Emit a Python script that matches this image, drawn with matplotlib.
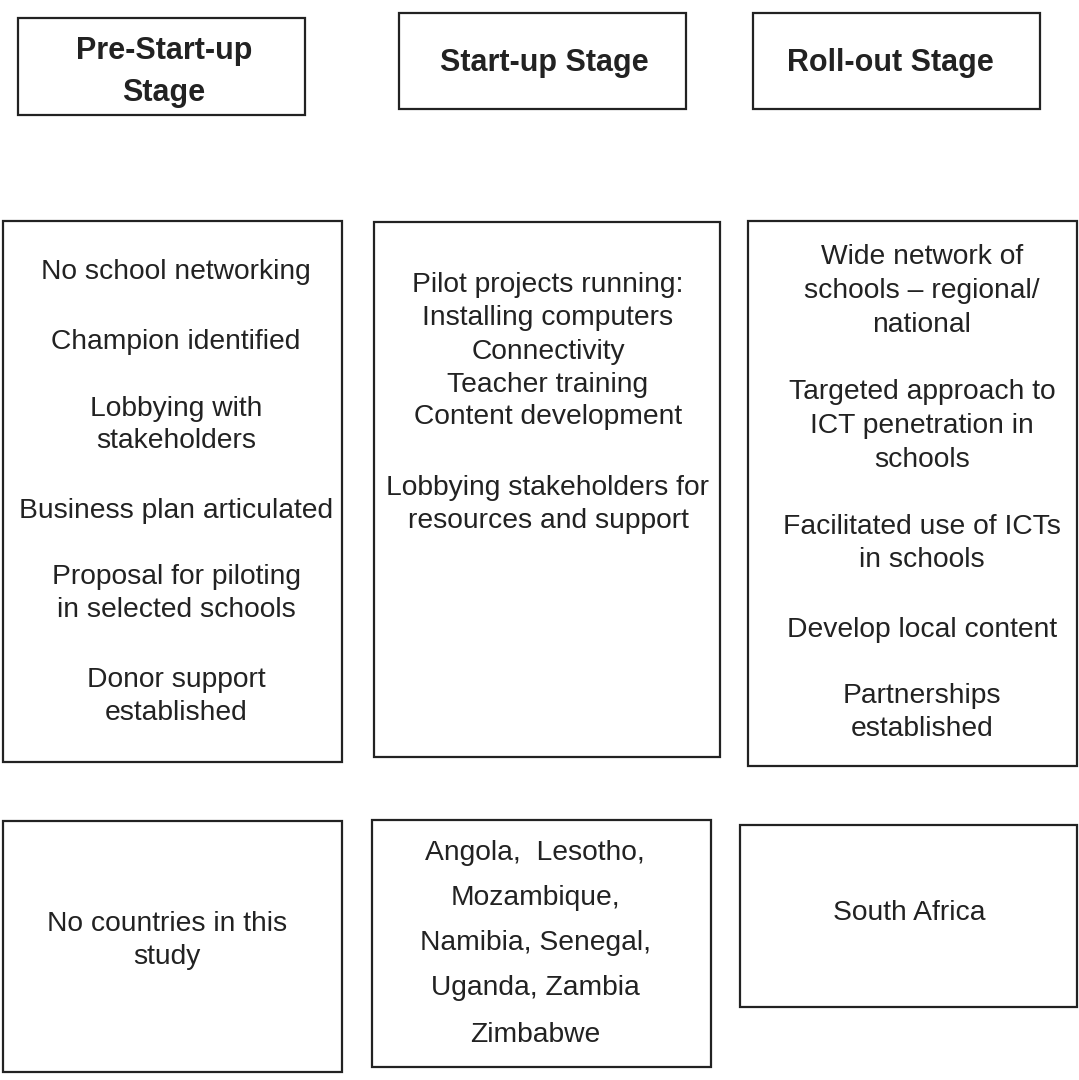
import matplotlib
matplotlib.use("Agg")
from matplotlib import pyplot as plt
from matplotlib.patches import Rectangle

plt.rcParams['font.family'] = ['Liberation Sans', 'DejaVu Sans']

# stage headers
headers = ["Pre-Start-up\nStage", "Start-up Stage", "Roll-out Stage"]

# stage characteristics, one list of lines per stage
pre_startup = ["No school networking", "Champion identified", "Lobbying with",
               "stakeholders", "Business plan articulated", "Proposal for piloting",
               "in selected schools", "Donor support", "established"]
startup = ["Pilot projects running:", "Installing computers", "Connectivity",
           "Teacher training", "Content development", "Lobbying stakeholders for",
           "resources and support"]
rollout = ["Wide network of", "schools \u2013 regional/", "national",
           "Targeted approach to", "ICT penetration in", "schools",
           "Facilitated use of ICTs", "in schools", "Develop local content",
           "Partnerships", "established"]

# countries at each stage
countries = [["No countries in this", "study"],
             ["Angola,  Lesotho,", "Mozambique,", "Namibia, Senegal,",
              "Uganda, Zambia", "Zimbabwe"],
             ["South Africa"]]

W, H = 1079, 1080
fig = plt.figure(figsize=(W / 100, H / 100), dpi=100)
ax = fig.add_axes([0, 0, 1, 1])
ax.set_xlim(0, W)
ax.set_ylim(H, 0)
ax.axis("off")


def box(x0, y0, x1, y1):
    ax.add_patch(Rectangle((x0, y0), x1 - x0, y1 - y0, fill=False,
                           edgecolor="#222222", linewidth=1.6))


def lines(xc, ys, texts, **kw):
    for y, t in zip(ys, texts):
        ax.text(xc, y, t, ha="center", va="center", fontsize=20.3,
                color="#222222", **kw)


# header row
header_boxes = [(18, 18, 305, 115), (399, 13, 686, 109), (753, 13, 1040, 109)]
header_pos = [(164, 72), (544, 63), (890, 63)]
for (x0, y0, x1, y1), (xc, yc), label in zip(header_boxes, header_pos, headers):
    box(x0, y0, x1, y1)
    ax.text(xc, yc, label, ha="center", va="center",
            fontsize=22, fontweight="bold", color="#222222", linespacing=1.5)

# characteristics row
box(3, 221, 342, 762)
lines(176, [272, 342, 409, 441, 511, 577, 610, 680, 713], pre_startup)
box(374, 222, 720, 757)
lines(548, [285, 318, 352, 385, 417, 488, 521], startup)
box(748, 221, 1077, 766)
lines(922, [257, 291, 325, 392, 426, 460, 527, 560, 630, 696, 729], rollout)

# countries row
box(3, 821, 342, 1072)
lines(167, [924, 957], countries[0])
box(372, 820, 711, 1067)
lines(535, [853, 898, 943, 988, 1035], countries[1])
box(740, 825, 1077, 1007)
lines(909, [913], countries[2])

fig.savefig("out.png", dpi=100)
